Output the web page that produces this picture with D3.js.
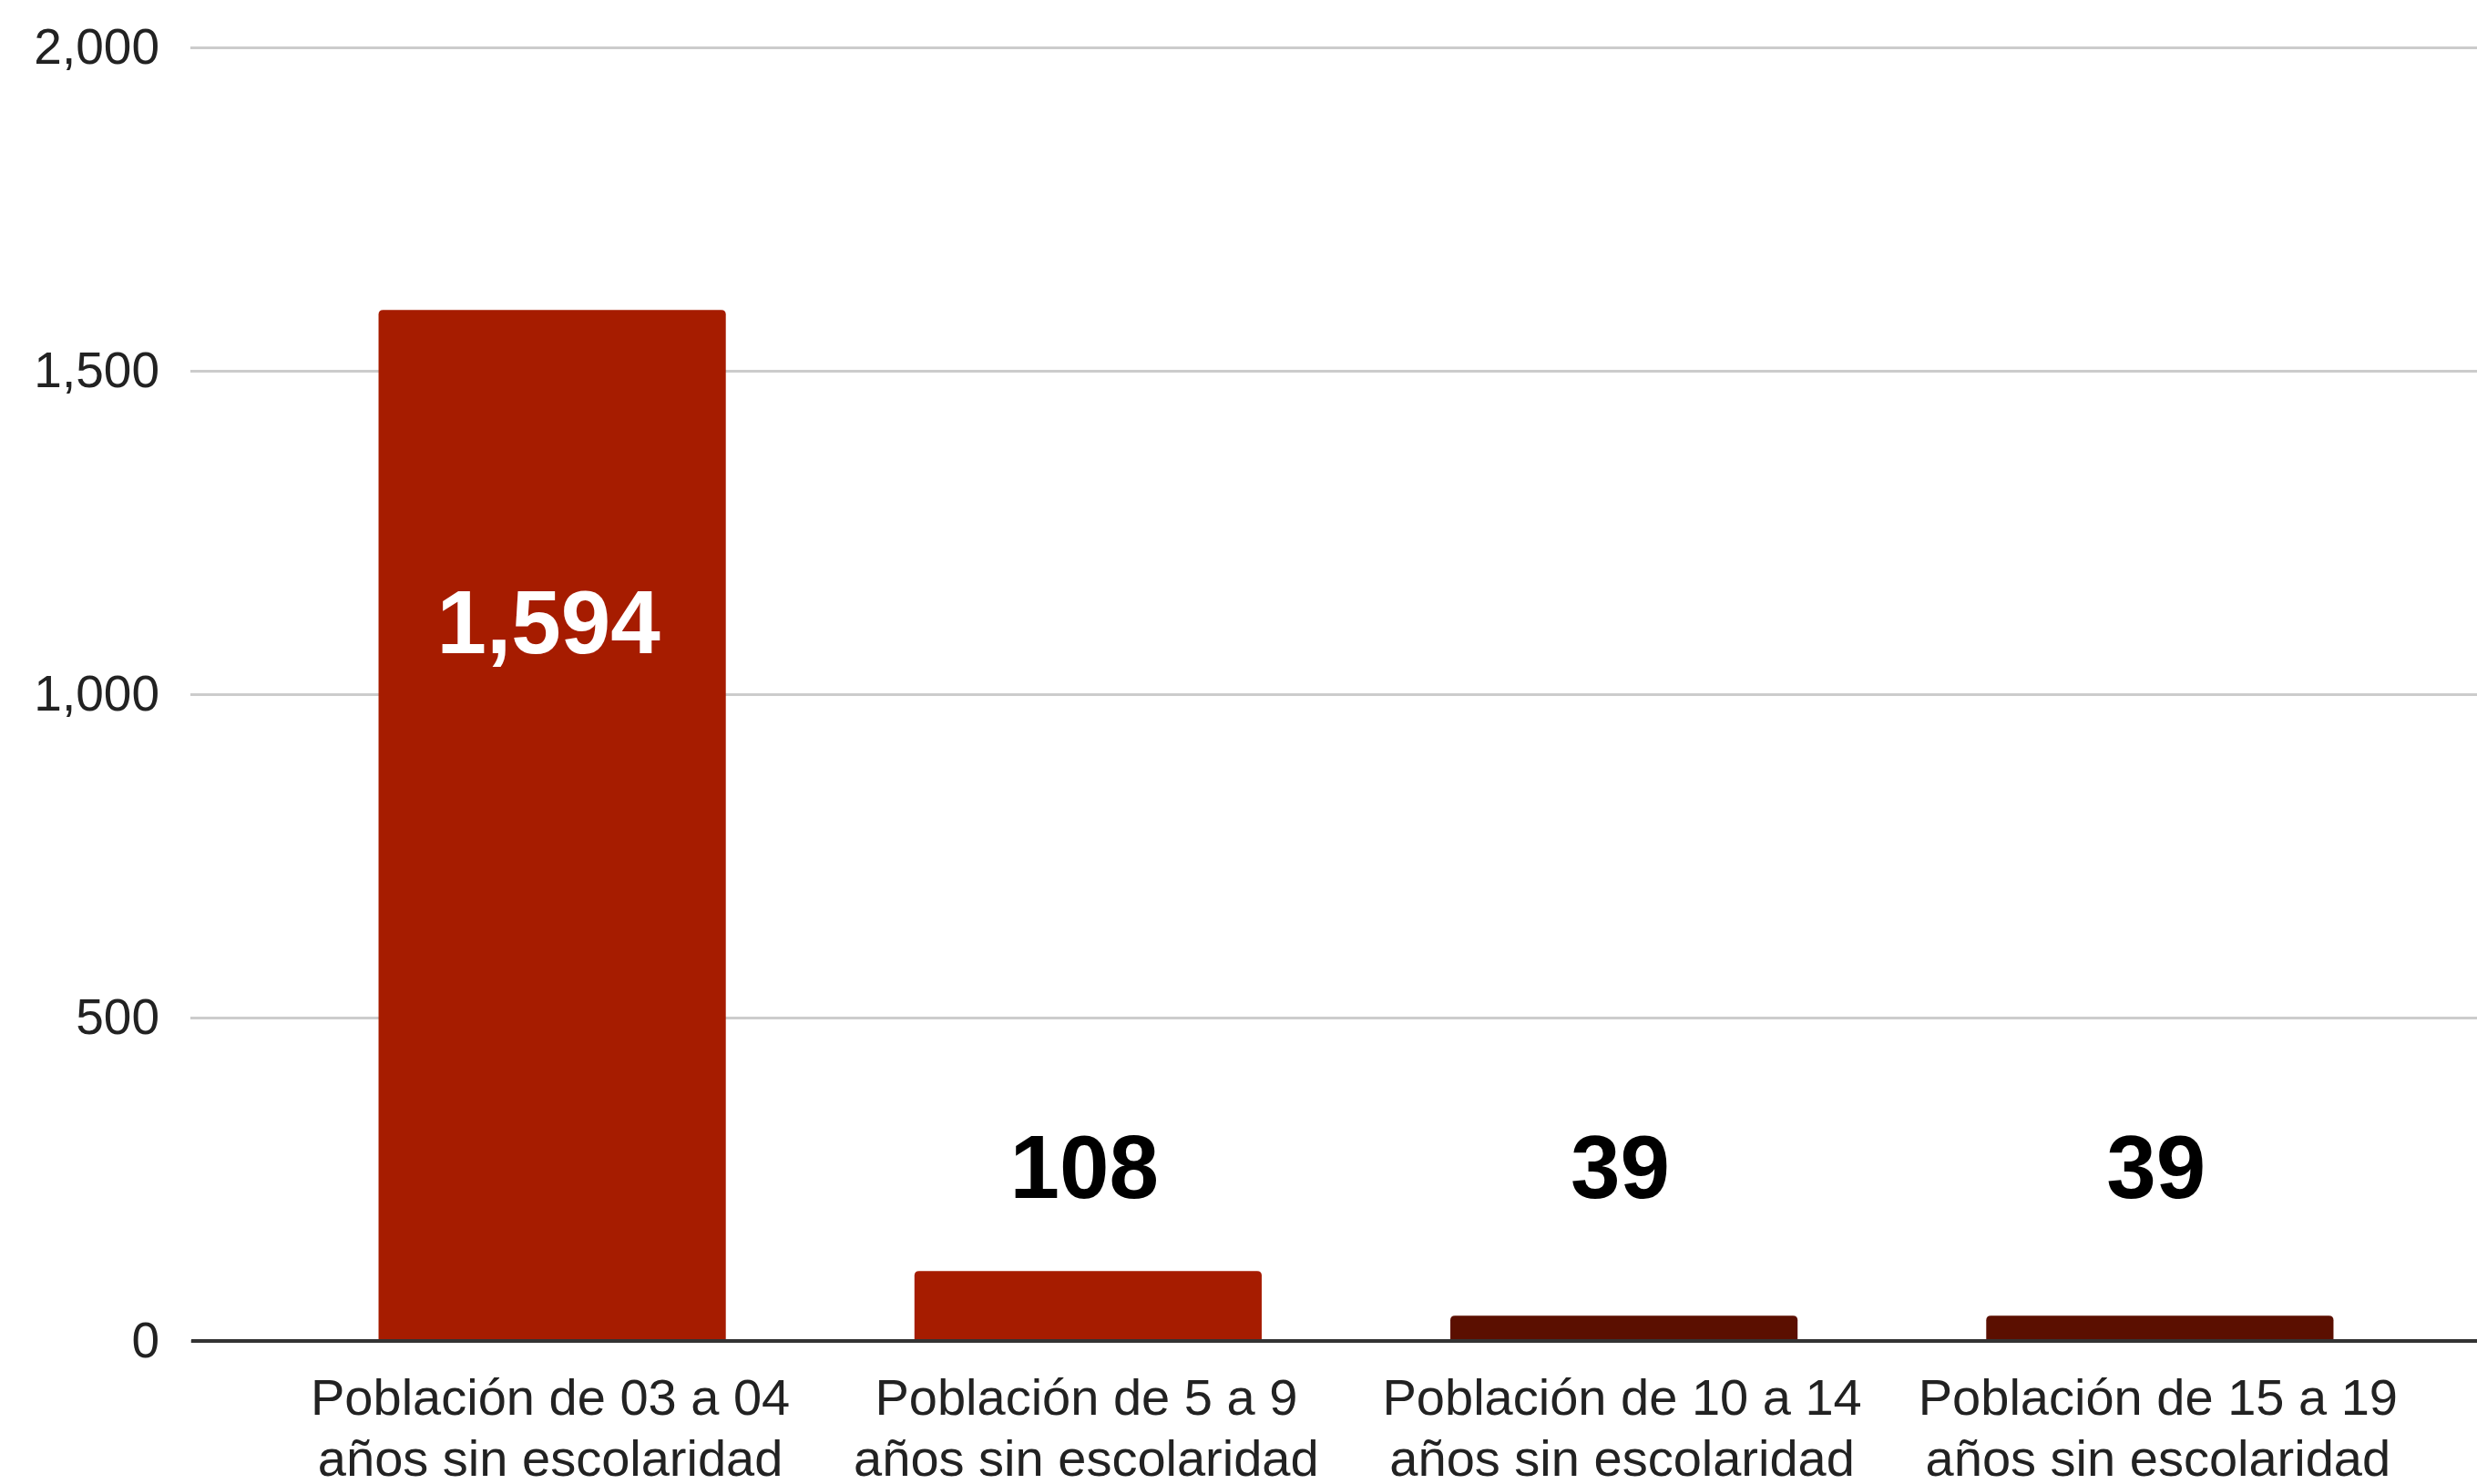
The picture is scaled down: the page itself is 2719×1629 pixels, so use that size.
<!DOCTYPE html>
<html>
<head>
<meta charset="utf-8">
<script src="https://cdn.jsdelivr.net/npm/d3@7"></script>
<style>
  body { margin: 0; background: #fff; }
  svg { display: block; }
</style>
</head>
<body>
<div class="chart"></div>
<script>
// data
var categories = [
  ["Población de 03 a 04", "años sin escolaridad"],
  ["Población de 5 a 9", "años sin escolaridad"],
  ["Población de 10 a 14", "años sin escolaridad"],
  ["Población de 15 a 19", "años sin escolaridad"]
];
var values = [1594, 108, 39, 39];
var barColors = ["#a61c00", "#a61c00", "#5b0f00", "#5b0f00"];
var yTicks = [0, 500, 1000, 1500, 2000];

var W = 2719, H = 1629;
var font = "'Liberation Sans', Arial, sans-serif";

// scales
var x = d3.scaleBand()
  .domain(d3.range(values.length))
  .range([312, 2665])
  .paddingInner(0.352)
  .paddingOuter(0.176);

var y = d3.scaleLinear()
  .domain([0, 2000])
  .range([1472, 52]);

var svg = d3.select(".chart")
  .append("svg")
  .attr("width", W)
  .attr("height", H);

// gridlines + y labels
var yAxis = d3.axisLeft(y)
  .tickValues(yTicks)
  .tickSize(-(W - 209))
  .tickPadding(34)
  .tickFormat(d3.format(","));

var gy = svg.append("g")
  .attr("transform", "translate(209,0)")
  .call(yAxis);
gy.select(".domain").remove();
gy.selectAll(".tick line")
  .attr("stroke", "#cccccc")
  .attr("stroke-width", 3);
gy.selectAll(".tick text")
  .attr("font-family", font)
  .attr("font-size", "55px")
  .attr("fill", "#222");

// bars with rounded top corners
function barPath(i) {
  var x0 = x(i), w = x.bandwidth(), top = y(values[i]), bot = y(0), r = 5;
  r = Math.min(r, (bot - top) / 2);
  return "M" + x0 + "," + bot +
    "V" + (top + r) +
    "Q" + x0 + "," + top + " " + (x0 + r) + "," + top +
    "H" + (x0 + w - r) +
    "Q" + (x0 + w) + "," + top + " " + (x0 + w) + "," + (top + r) +
    "V" + bot + "Z";
}

svg.selectAll(".bar")
  .data(values)
  .enter()
  .append("path")
  .attr("class", "bar")
  .attr("d", function (d, i) { return barPath(i); })
  .attr("fill", function (d, i) { return barColors[i]; });

// baseline
svg.append("line")
  .attr("x1", 210)
  .attr("x2", W)
  .attr("y1", y(0))
  .attr("y2", y(0))
  .attr("stroke", "#333")
  .attr("stroke-width", 4);

// value labels
svg.selectAll(".val")
  .data(values)
  .enter()
  .append("text")
  .attr("class", "val")
  .text(function (d) { return d3.format(",")(d); })
  .attr("x", function (d, i) { return x(i) + x.bandwidth() / 2 - 4; })
  .attr("y", function (d) { return d > 500 ? y(d) + 377 : y(0) - 157; })
  .attr("text-anchor", "middle")
  .attr("font-family", font)
  .attr("font-weight", "bold")
  .attr("font-size", "98px")
  .attr("fill", function (d) { return d > 500 ? "#fff" : "#000"; });

// category labels
var cat = svg.selectAll(".cat")
  .data(categories)
  .enter()
  .append("text")
  .attr("class", "cat")
  .attr("x", function (d, i) { return x(i) + x.bandwidth() / 2 - 2; })
  .attr("y", 1553)
  .attr("text-anchor", "middle")
  .attr("font-family", font)
  .attr("font-size", "56px")
  .attr("fill", "#222");

cat.selectAll("tspan")
  .data(function (d) { return d; })
  .enter()
  .append("tspan")
  .attr("x", function () { return d3.select(this.parentNode).attr("x"); })
  .attr("dy", function (d, j) { return j === 0 ? 0 : 67; })
  .text(function (d) { return d; });
</script>
</body>
</html>
